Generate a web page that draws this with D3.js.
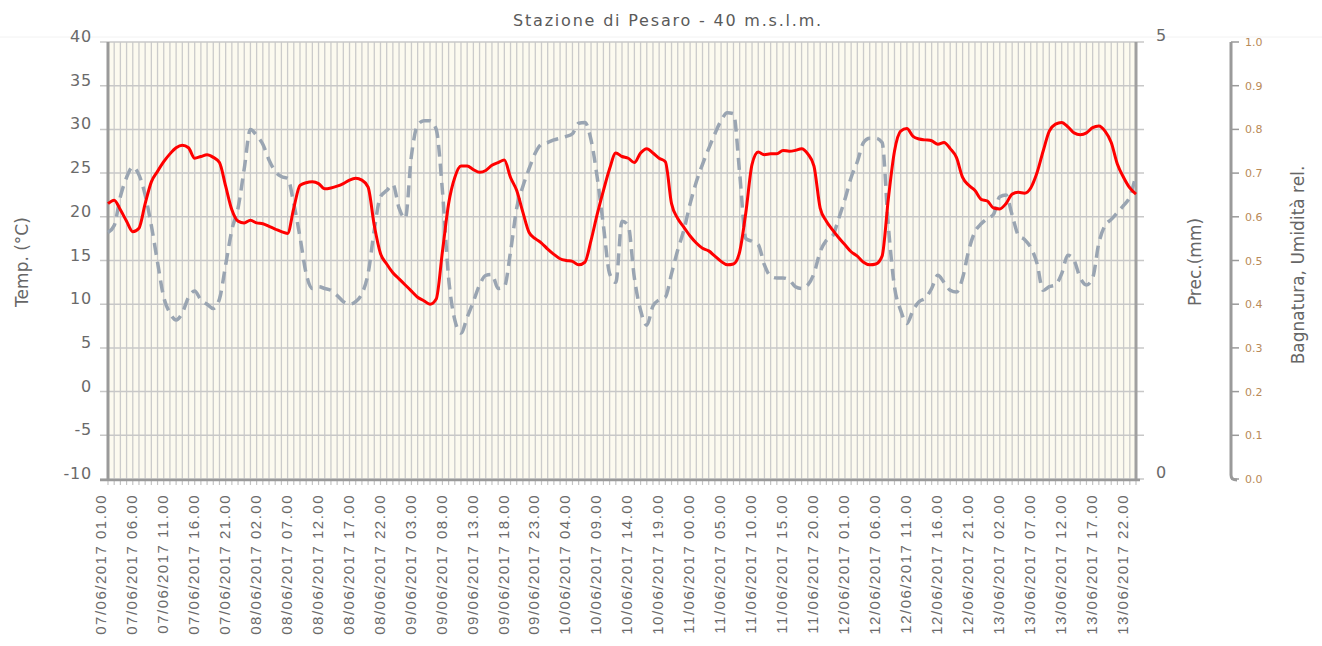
<!DOCTYPE html>
<html>
<head>
<meta charset="utf-8">
<script src="https://cdn.jsdelivr.net/npm/d3@7"></script>
<style>
  body { margin: 0; background: #fff; }
  text { font-family: "DejaVu Sans", Verdana, sans-serif; fill: #666; }
</style>
</head>
<body>
<div id="chart"></div>
<script>
const width = 1322;
const height = 646;

// hourly readings, 07/06/2017 01.00 -> 13/06/2017 23.00
const startHour = new Date(2017, 5, 7, 1);
const endHour = new Date(2017, 5, 13, 23);

const temperature = [
  21.5, 21.9, 20.8, 19.5, 18.3, 18.7, 21.5, 24, 25.2, 26.3,
  27.2, 27.9, 28.2, 27.9, 26.7, 26.9, 27.1, 26.8, 26.2, 23.5,
  20.8, 19.5, 19.3, 19.6, 19.3, 19.2, 18.9, 18.6, 18.3, 18.1,
  21, 23.6, 23.9, 24.0, 23.8, 23.2, 23.3, 23.5, 23.8, 24.2,
  24.4, 24.2, 23.4, 19, 15.8, 14.6, 13.6, 12.9, 12.2, 11.5,
  10.8, 10.4, 10, 10.6, 16, 21.5, 24.5, 25.8, 25.8, 25.4,
  25.1, 25.3, 25.9, 26.2, 26.5, 24.5, 23, 20.5, 18.2, 17.5,
  17, 16.3, 15.7, 15.2, 15, 14.9, 14.5, 14.8, 17.3, 20.3,
  23, 25.5, 27.3, 26.9, 26.7, 26.2, 27.3, 27.8, 27.3, 26.7,
  26.3, 21.5, 19.8, 18.8, 17.8, 17, 16.4, 16.1, 15.5, 14.9,
  14.5, 14.6, 16, 20.5, 26, 27.4, 27.1, 27.2, 27.2, 27.6,
  27.5, 27.6, 27.8, 27.2, 25.8, 21, 19.5, 18.5, 17.6, 16.8,
  16, 15.5, 14.8, 14.5, 14.6, 15.5, 22, 27.5, 29.8, 30.1,
  29.2, 28.9, 28.8, 28.7, 28.3, 28.5, 27.8, 26.8, 24.5, 23.6,
  23, 22, 21.8, 21, 20.9, 21.5, 22.6, 22.8, 22.7, 23.3,
  25, 27.5, 29.8, 30.6, 30.8, 30.3, 29.6, 29.4, 29.6, 30.2,
  30.4, 29.8, 28.5, 26, 24.5, 23.3, 22.6
];

const humidity = [
  .564, .58, .646, .69, .714, .696, .65, .58, .496, .416,
  .38, .364, .38, .416, .43, .41, .40, .39, .412, .49,
  .57, .62, .71, .80, .786, .766, .73, .704, .692, .688,
  .63, .554, .47, .436, .44, .436, .432, .42, .406, .40,
  .406, .424,
  .47, .57, .646, .66, .674, .62, .596, .74, .81, .82,
  .82, .80, .66, .46, .364, .334, .37, .406, .444, .466,
  .468, .436, .44, .52, .62, .67, .71, .746, .766, .77,
  .776, .78, .784, .79, .814, .816, .776,
  .69, .58, .47, .45, .59, .58, .46, .386, .352, .396,
  .41, .416, .47, .524, .57, .63, .68, .72, .756, .79,
  .82, .838, .836, .70, .55, .544, .536, .49, .464, .46,
  .46, .456, .44, .436, .444, .47, .52, .546, .556, .596,
  .64, .69, .726, .77, .78, .78, .77, .58, .44, .386,
  .356, .386, .406, .414, .436, .466, .45, .432, .428, .46,
  .524, .566, .584, .596, .606, .646, .65, .604, .558, .548,
  .53, .494, .432, .44, .444, .47, .512, .50, .46, .444,
  .46, .54, .58, .594, .61, .626, .646, .696
];

const tempTicks = [-10, -5, 0, 5, 10, 15, 20, 25, 30, 35, 40];
const precTicks = [0, 5];
const humTicks = [0, .1, .2, .3, .4, .5, .6, .7, .8, .9, 1];
const labelEvery = 5;

const hours = d3.timeHour.range(startHour, d3.timeHour.offset(endHour, 1));
const fmt = d3.timeFormat("%d/%m/%Y %H.%M");

const plotLeft = 108, plotRight = 1136, plotTop = 42, plotBottom = 479;

const x = d3.scaleTime().domain([startHour, endHour]).range([plotLeft, plotRight]);
const yT = d3.scaleLinear().domain([-10, 40]).range([plotBottom, plotTop]);
const yP = d3.scaleLinear().domain([0, 5]).range([plotBottom, plotTop]);
const yH = d3.scaleLinear().domain([0, 1]).range([plotBottom, plotTop]);

const svg = d3.select("#chart").append("svg")
    .attr("width", width)
    .attr("height", height);

// title
svg.append("text")
    .attr("x", 668).attr("y", 26)
    .attr("text-anchor", "middle")
    .style("font-size", "16px")
    .style("letter-spacing", "1.8px")
    .style("fill", "#5a5a5a")
    .text("Stazione di Pesaro - 40 m.s.l.m.");
svg.append("line")
    .attr("x1", 0).attr("x2", width).attr("y1", 37).attr("y2", 37)
    .attr("stroke", "#f2f2f2");

// plot background
svg.append("rect")
    .attr("x", plotLeft).attr("y", plotTop)
    .attr("width", plotRight - plotLeft).attr("height", plotBottom - plotTop)
    .attr("fill", "#fcfaef");

// vertical hourly grid
svg.append("g").selectAll("line").data(hours).join("line")
    .attr("x1", d => x(d)).attr("x2", d => x(d))
    .attr("y1", plotTop).attr("y2", plotBottom)
    .attr("stroke", "#cbcbcb").attr("stroke-width", 1.3);

// hourly ticks under the axis
svg.append("g").selectAll("line").data(hours).join("line")
    .attr("x1", d => x(d)).attr("x2", d => x(d))
    .attr("y1", plotBottom + 1).attr("y2", plotBottom + 6)
    .attr("stroke", "#c4c4c4").attr("stroke-width", 1.2);

// horizontal grid + left ticks
svg.append("g").selectAll("line").data(tempTicks).join("line")
    .attr("x1", plotLeft - 8).attr("x2", plotRight + 8)
    .attr("y1", d => yT(d)).attr("y2", d => yT(d))
    .attr("stroke", "#c8c8c8").attr("stroke-width", 1.5);

// plot frame
svg.append("line")
    .attr("x1", plotLeft).attr("x2", plotLeft).attr("y1", plotTop).attr("y2", plotBottom + 1)
    .attr("stroke", "#9a9a9a").attr("stroke-width", 3);
svg.append("line")
    .attr("x1", plotRight).attr("x2", plotRight).attr("y1", plotTop).attr("y2", plotBottom + 1)
    .attr("stroke", "#a0a0a0").attr("stroke-width", 3);
svg.append("line")
    .attr("x1", plotLeft - 8).attr("x2", plotRight + 4).attr("y1", plotBottom + 1).attr("y2", plotBottom + 1)
    .attr("stroke", "#9a9a9a").attr("stroke-width", 2.5);

// left axis labels
svg.append("g").selectAll("text").data(tempTicks).join("text")
    .attr("x", 92).attr("y", d => yT(d))
    .attr("text-anchor", "end")
    .style("font-size", "16px")
    .style("letter-spacing", "0.8px")
    .style("fill", "#6a6a6a")
    .text(d => d);

svg.append("text")
    .attr("transform", "translate(28,262) rotate(-90)")
    .attr("text-anchor", "middle")
    .style("font-size", "17px")
    .text("Temp. (°C)");

// x labels
svg.append("g").selectAll("text")
    .data(hours.filter((d, i) => i % labelEvery === 0))
    .join("text")
    .attr("transform", d => `translate(${x(d) - 2},494) rotate(-90)`)
    .attr("text-anchor", "end")
    .style("font-family", "'Liberation Sans', Arial, sans-serif")
    .style("font-size", "15px")
    .style("letter-spacing", "1.5px")
    .style("fill", "#6a6a6a")
    .text(d => fmt(d));

// precipitation axis (labels only)
svg.append("g").selectAll("text").data(precTicks).join("text")
    .attr("x", 1156).attr("y", d => yP(d) - 1)
    .style("font-size", "16px")
    .style("fill", "#6a6a6a")
    .text(d => d);

svg.append("text")
    .attr("transform", "translate(1201,262) rotate(-90)")
    .attr("text-anchor", "middle")
    .style("font-size", "17px")
    .text("Prec.(mm)");

// humidity axis
const hx = 1231;
svg.append("path")
    .attr("d", `M${hx},${plotTop} L${hx},${plotBottom - 4} Q${hx},${plotBottom + 1} ${hx + 6},${plotBottom + 1}`)
    .attr("fill", "none")
    .attr("stroke", "#9a9a9a").attr("stroke-width", 3);
svg.append("g").selectAll("line").data(humTicks).join("line")
    .attr("x1", hx).attr("x2", hx + 8)
    .attr("y1", d => yH(d)).attr("y2", d => yH(d))
    .attr("stroke", "#9a9a9a").attr("stroke-width", 1.5);
svg.append("g").selectAll("text").data(humTicks).join("text")
    .attr("x", 1245).attr("y", d => yH(d) + 4)
    .style("font-size", "11px")
    .style("fill", "#b98a58")
    .text(d => d3.format(".1f")(d));

svg.append("text")
    .attr("transform", "translate(1304,265) rotate(-90)")
    .attr("text-anchor", "middle")
    .style("font-size", "17px")
    .text("Bagnatura, Umidità rel.");

// series
const humLine = d3.line()
    .x((d, i) => x(hours[i]))
    .y(d => yH(d))
    .curve(d3.curveMonotoneX);

const tempLine = d3.line()
    .x((d, i) => x(hours[i]))
    .y(d => yT(d))
    .curve(d3.curveMonotoneX);

svg.append("path")
    .datum(humidity)
    .attr("d", humLine)
    .attr("fill", "none")
    .attr("stroke", "#9aa5b2")
    .attr("stroke-width", 3.5)
    .attr("stroke-dasharray", "12,7");

svg.append("path")
    .datum(temperature)
    .attr("d", tempLine)
    .attr("fill", "none")
    .attr("stroke", "#ff0000")
    .attr("stroke-width", 3);
</script>
</body>
</html>
